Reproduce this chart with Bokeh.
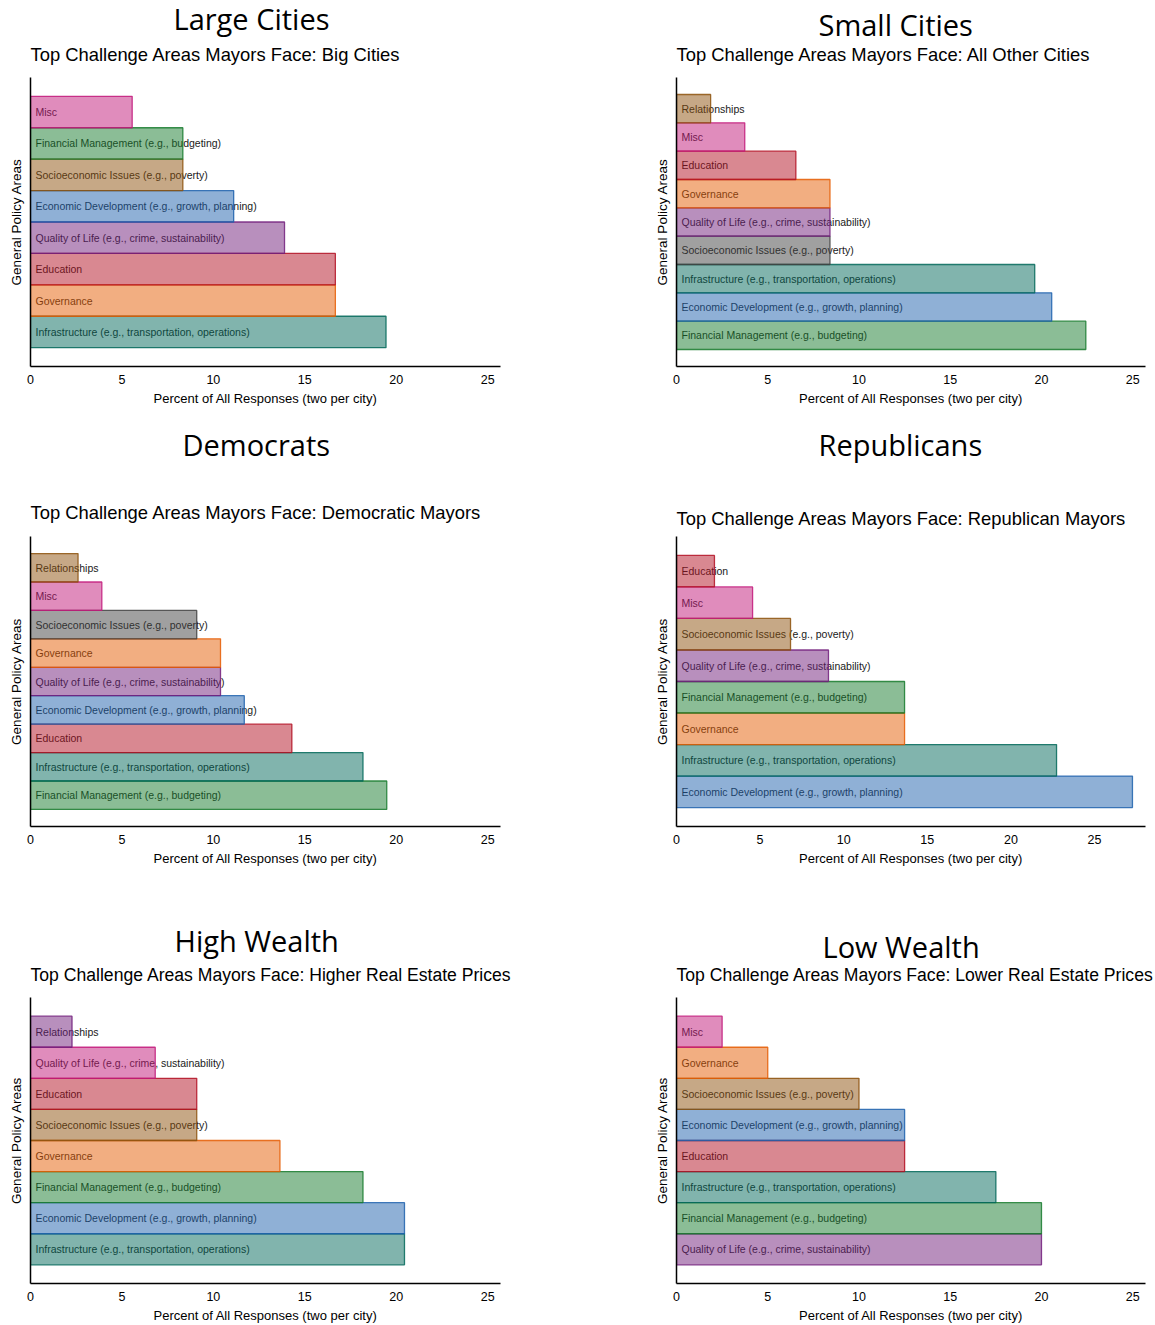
from bokeh.plotting import figure
from bokeh.models import Title, ColumnDataSource, Range1d, FixedTicker
from bokeh.layouts import column, row
from bokeh.embed import file_html
from bokeh.resources import INLINE
from bokeh.core.properties import value

# ---------------- data (bars listed bottom -> top) ----------------
INFRA = "Infrastructure (e.g., transportation, operations)"
GOV = "Governance"
EDU = "Education"
QOL = "Quality of Life (e.g., crime, sustainability)"
ECON = "Economic Development (e.g., growth, planning)"
SOCIO = "Socioeconomic Issues (e.g., poverty)"
FIN = "Financial Management (e.g., budgeting)"
MISC = "Misc"
REL = "Relationships"

large_cats = [INFRA, GOV, EDU, QOL, ECON, SOCIO, FIN, MISC]
large_vals = [19.44, 16.67, 16.67, 13.89, 11.11, 8.33, 8.33, 5.56]

small_cats = [FIN, ECON, INFRA, SOCIO, QOL, GOV, EDU, MISC, REL]
small_vals = [22.43, 20.56, 19.63, 8.41, 8.41, 8.41, 6.54, 3.74, 1.87]

dem_cats = [FIN, INFRA, EDU, ECON, QOL, GOV, SOCIO, MISC, REL]
dem_vals = [19.48, 18.18, 14.29, 11.69, 10.39, 10.39, 9.09, 3.90, 2.60]

rep_cats = [ECON, INFRA, GOV, FIN, QOL, SOCIO, MISC, EDU]
rep_vals = [27.27, 22.73, 13.64, 13.64, 9.09, 6.82, 4.55, 2.27]

high_cats = [INFRA, ECON, FIN, GOV, SOCIO, EDU, QOL, REL]
high_vals = [20.45, 20.45, 18.18, 13.64, 9.09, 9.09, 6.82, 2.27]

low_cats = [QOL, FIN, INFRA, EDU, ECON, SOCIO, GOV, MISC]
low_vals = [20.0, 20.0, 17.5, 12.5, 12.5, 10.0, 5.0, 2.5]

x_ticks = [0, 5, 10, 15, 20, 25]

# ---------------- styles ----------------
PAL = {
    "teal": "#03695b", "orange": "#e55d03", "red": "#b31123", "purple": "#721f7c",
    "blue": "#1f61ad", "tan": "#8d520d", "green": "#187b2e", "pink": "#c2197a",
    "gray": "#414141",
}
large_cols = ["teal", "orange", "red", "purple", "blue", "tan", "green", "pink"]
small_cols = ["green", "blue", "teal", "gray", "purple", "orange", "red", "pink", "tan"]
dem_cols = ["green", "teal", "red", "blue", "purple", "orange", "gray", "pink", "tan"]
rep_cols = ["blue", "teal", "orange", "green", "purple", "tan", "pink", "red"]
high_cols = ["teal", "blue", "green", "orange", "tan", "red", "pink", "purple"]
low_cols = ["purple", "green", "teal", "red", "blue", "tan", "orange", "pink"]

SANS = "Liberation Sans"
TITLE_FONT = "Open Sans"


def panel(cats, vals, cols, title, subtitle, xmax, width, height,
          b_left, b_right, b_top, b_bottom, sub_so, title_so, title_off,
          spacer_so=None, sub_size="18.4px"):
    n = len(cats)
    pad = 0.6
    src = ColumnDataSource(dict(
        y=list(range(n)), val=vals, label=cats,
        color=[PAL[c] for c in cols],
    ))
    p = figure(width=width, height=height, output_backend="svg",
               toolbar_location=None, tools="",
               x_range=Range1d(0, xmax), y_range=Range1d(-0.5 - pad, n - 0.5 + pad),
               min_border_left=b_left, min_border_right=b_right,
               min_border_top=b_top, min_border_bottom=b_bottom)
    p.outline_line_color = None
    p.grid.visible = False
    p.background_fill_color = "white"
    p.border_fill_color = "white"

    p.text(x=0, y="y", text="label", source=src, x_offset=5,
           text_baseline="middle", text_align="left",
           text_font=value(SANS), text_font_size="10.5px", text_color="#1a1a1a")
    p.hbar(y="y", left=0, right="val", height=1.0, source=src,
           fill_color="color", fill_alpha=0.5, line_color="color",
           line_alpha=0.85, line_width=1.3)

    xa = p.xaxis[0]
    xa.ticker = FixedTicker(ticks=x_ticks)
    xa.axis_line_width = 1.5
    xa.axis_line_color = "black"
    xa.major_tick_line_color = None
    xa.minor_tick_line_color = None
    xa.major_tick_out = 0
    xa.major_tick_in = 0
    xa.major_label_standoff = 8
    xa.major_label_text_font = SANS
    xa.major_label_text_font_size = "12.5px"
    xa.major_label_text_color = "black"
    xa.axis_label = "Percent of All Responses (two per city)"
    xa.axis_label_text_font = SANS
    xa.axis_label_text_font_size = "13px"
    xa.axis_label_text_font_style = "normal"
    xa.axis_label_text_color = "black"
    xa.axis_label_standoff = 4

    ya = p.yaxis[0]
    ya.ticker = FixedTicker(ticks=[])
    ya.axis_line_width = 1.5
    ya.axis_line_color = "black"
    ya.major_tick_line_color = None
    ya.minor_tick_line_color = None
    ya.major_tick_out = 0
    ya.major_label_standoff = 0
    ya.major_label_text_font_size = "0px"
    ya.axis_label = "General Policy Areas"
    ya.axis_label_text_font = SANS
    ya.axis_label_text_font_size = "13.5px"
    ya.axis_label_text_font_style = "normal"
    ya.axis_label_text_color = "black"
    ya.axis_label_standoff = 7

    p.add_layout(Title(text=subtitle, align="left", text_font=SANS,
                       text_font_size=sub_size, text_font_style="normal",
                       text_color="black", standoff=sub_so), "above")
    if spacer_so is not None:
        p.add_layout(Title(text=" ", align="left", text_font=SANS,
                           text_font_size="1px", standoff=spacer_so), "above")
    p.add_layout(Title(text=title, align="left", text_font=TITLE_FONT,
                       text_font_size="29px", text_font_style="normal",
                       text_color="black", standoff=title_so,
                       offset=title_off), "above")
    return p


LW, RW = 570, 585
# row 1: frame 77..366
p1 = panel(large_cats, large_vals, large_cols, "Large Cities",
           "Top Challenge Areas Mayors Face: Big Cities", 25.7,
           LW, 410, 30, 70, 77, 44, 26, -18, 143)
p2 = panel(small_cats, small_vals, small_cols, "Small Cities",
           "Top Challenge Areas Mayors Face: All Other Cities", 25.7,
           RW, 410, 106, 10, 77, 44, 26, -31, 142)
# row 2: starts at 410, frame 536..826
p3 = panel(dem_cats, dem_vals, dem_cols, "Democrats",
           "Top Challenge Areas Mayors Face: Democratic Mayors", 25.7,
           LW, 466, 30, 70, 126, 50, 28, 0, 152, spacer_so=19)
p4 = panel(rep_cats, rep_vals, rep_cols, "Republicans",
           "Top Challenge Areas Mayors Face: Republican Mayors", 28.05,
           RW, 466, 106, 10, 126, 50, 16, 0, 142, spacer_so=31)
# row 3: starts at 876, frame 997..1286
p5 = panel(high_cats, high_vals, high_cols, "High Wealth",
           "Top Challenge Areas Mayors Face: Higher Real Estate Prices", 25.7,
           LW, 449, 30, 70, 121, 39, 26, -20, 144, sub_size="17.6px")
p6 = panel(low_cats, low_vals, low_cols, "Low Wealth",
           "Top Challenge Areas Mayors Face: Lower Real Estate Prices", 25.7,
           RW, 449, 106, 10, 121, 39, 26, -32, 146, sub_size="17.6px")

layout = column(row(p1, p2), row(p3, p4), row(p5, p6))
open("out.html", "w").write(file_html(layout, INLINE))
